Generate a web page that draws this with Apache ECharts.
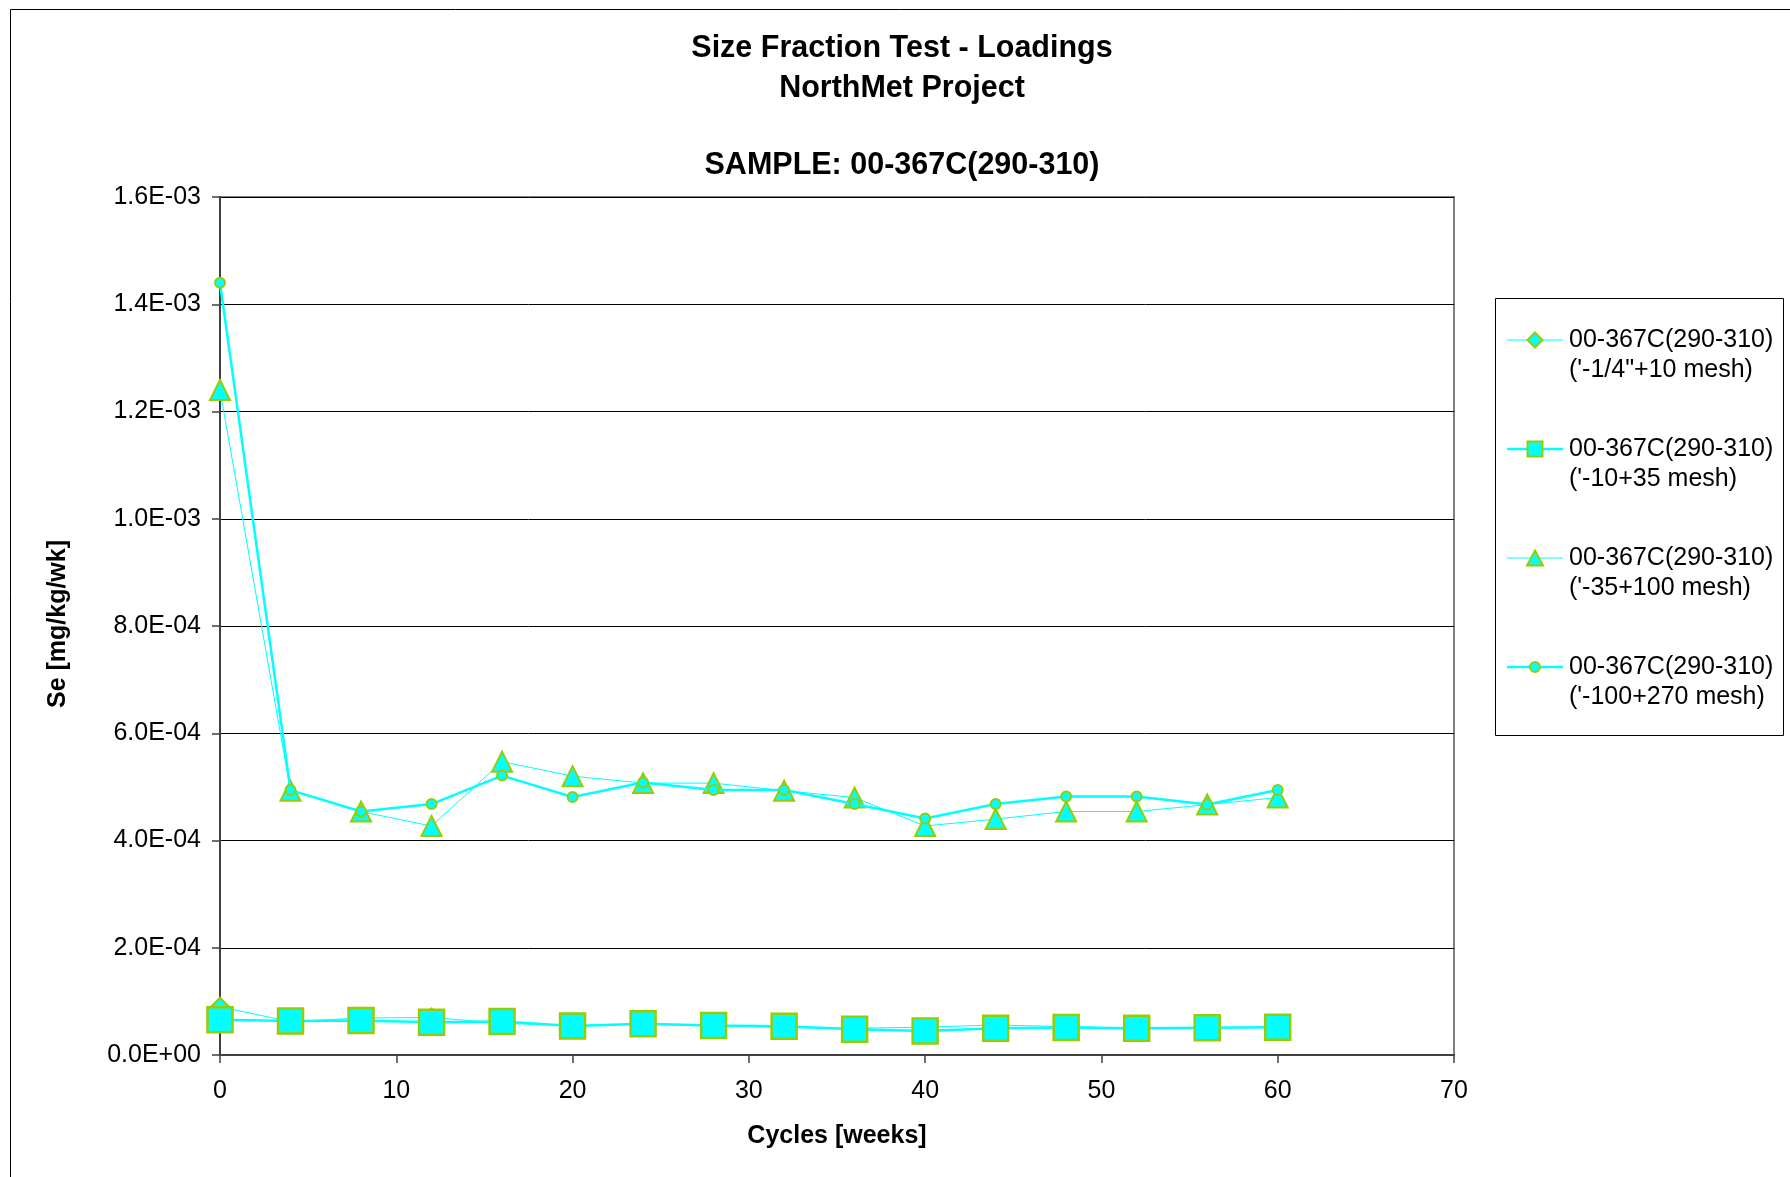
<!DOCTYPE html>
<html>
<head>
<meta charset="utf-8">
<title>Size Fraction Test - Loadings</title>
<script src="https://cdn.jsdelivr.net/npm/echarts@6/dist/echarts.min.js"></script>
<style>
  html, body { margin: 0; padding: 0; background: #ffffff; }
  #chart { width: 1790px; height: 1177px; }
</style>
</head>
<body>
<div id="chart"></div>
<script>
// Cycle numbers (weeks)
const cycles = [0, 4, 8, 12, 16, 20, 24, 28, 32, 36, 40, 44, 48, 52, 56, 60];

// Se loadings [mg/kg/wk] per size fraction
const seCoarse = [9.0e-5, 6.2e-5, 6.9e-5, 7.0e-5, 5.9e-5, 5.5e-5, 5.7e-5, 5.6e-5, 5.1e-5, 5.0e-5, 5.2e-5, 5.6e-5, 5.3e-5, 5.0e-5, 5.1e-5, 5.2e-5];
const seMesh10 = [6.58e-5, 6.34e-5, 6.43e-5, 6.12e-5, 6.25e-5, 5.41e-5, 5.82e-5, 5.50e-5, 5.37e-5, 4.80e-5, 4.48e-5, 4.97e-5, 5.13e-5, 4.97e-5, 5.09e-5, 5.19e-5];
const seMesh35 = [1.24e-3, 4.93e-4, 4.54e-4, 4.27e-4, 5.47e-4, 5.20e-4, 5.07e-4, 5.07e-4, 4.93e-4, 4.80e-4, 4.27e-4, 4.40e-4, 4.54e-4, 4.54e-4, 4.67e-4, 4.80e-4];
const seMesh100 = [1.44e-3, 4.94e-4, 4.54e-4, 4.68e-4, 5.21e-4, 4.81e-4, 5.08e-4, 4.94e-4, 4.94e-4, 4.68e-4, 4.41e-4, 4.68e-4, 4.82e-4, 4.82e-4, 4.67e-4, 4.94e-4];

// Series names (two lines each)
const seriesNames = [
  '00-367C(290-310)\n(\'-1/4"+10 mesh)',
  '00-367C(290-310)\n(\'-10+35 mesh)',
  '00-367C(290-310)\n(\'-35+100 mesh)',
  '00-367C(290-310)\n(\'-100+270 mesh)'
];

// Axis ranges
const xMin = 0, xMax = 70, xStep = 10;
const yMin = 0, yMax = 1.6e-3, yStep = 2e-4;

const titleLines = ['Size Fraction Test - Loadings', 'NorthMet Project', 'SAMPLE: 00-367C(290-310)'];
const xTitle = 'Cycles [weeks]';
const yTitle = 'Se [mg/kg/wk]';

const FONT = '"Liberation Sans", Arial, Helvetica, sans-serif';
const LINE = '#00FFFF';
const EDGE = '#99CC00';

// Excel-like scientific tick labels, e.g. 1.6E-03
function sci(v) {
  const parts = v.toExponential(1).split('e');
  const n = parseInt(parts[1], 10);
  return parts[0] + 'E' + (n < 0 ? '-' : '+') + String(Math.abs(n)).padStart(2, '0');
}

const styles = [
  { symbol: 'diamond',  size: 18, border: 2,   width: 1,   legendSize: [15, 15] },
  { symbol: 'rect',     size: 25, border: 2.5, width: 2.5, legendSize: [15, 15] },
  { symbol: 'triangle', size: 20, border: 2,   width: 1,   legendSize: [16, 15] },
  { symbol: 'circle',   size: 10, border: 2,   width: 2.5, legendSize: [10, 10] }
];
const values = [seCoarse, seMesh10, seMesh35, seMesh100];

const series = values.map((vals, i) => ({
  name: seriesNames[i],
  type: 'line',
  data: cycles.map((c, k) => [c, vals[k]]),
  symbol: styles[i].symbol,
  symbolSize: styles[i].size,
  showAllSymbol: true,
  lineStyle: { color: LINE, width: styles[i].width },
  itemStyle: { color: LINE, borderColor: EDGE, borderWidth: styles[i].border },
  z: 2 + i,
  emphasis: { disabled: true }
}));

// Legend drawn as graphic elements beside the plot
const legendBox = { x: 1495.5, y: 298.5, w: 288, h: 437 };
const legendItems = [];
seriesNames.forEach((name, i) => {
  const cy = 340 + 109 * i;
  const st = styles[i];
  legendItems.push({
    type: 'line',
    shape: { x1: 1507, y1: cy, x2: 1563, y2: cy },
    style: { stroke: LINE, lineWidth: st.width }
  });
  const cx = 1535;
  const w = st.legendSize[0], h = st.legendSize[1];
  const mstyle = { fill: LINE, stroke: EDGE, lineWidth: 2 };
  if (st.symbol === 'diamond') {
    legendItems.push({ type: 'polygon', shape: { points: [[cx, cy - h / 2], [cx + w / 2, cy], [cx, cy + h / 2], [cx - w / 2, cy]] }, style: mstyle });
  } else if (st.symbol === 'rect') {
    legendItems.push({ type: 'rect', shape: { x: cx - w / 2, y: cy - h / 2, width: w, height: h }, style: mstyle });
  } else if (st.symbol === 'triangle') {
    legendItems.push({ type: 'polygon', shape: { points: [[cx, cy - h / 2], [cx + w / 2, cy + h / 2], [cx - w / 2, cy + h / 2]] }, style: mstyle });
  } else {
    legendItems.push({ type: 'circle', shape: { cx: cx, cy: cy, r: w / 2 }, style: mstyle });
  }
  name.split('\n').forEach((ln, j) => {
    legendItems.push({
      type: 'text', x: 1569, y: cy + 30 * j,
      style: { text: ln, font: '25px ' + FONT, fill: '#000', align: 'left', verticalAlign: 'middle' }
    });
  });
});

const titleY = [49, 88.5, 165.5];

const option = {
  animation: false,
  backgroundColor: '#ffffff',
  grid: {
    left: 220, right: 336, top: 197, bottom: 122,
    show: true, borderColor: '#808080', borderWidth: 2,
    containLabel: false, outerBoundsMode: 'none'
  },
  xAxis: {
    type: 'value', min: xMin, max: xMax, interval: xStep,
    axisLine: { show: true, onZero: false, lineStyle: { color: '#404040', width: 2 } },
    axisTick: { show: true, inside: false, length: 8, lineStyle: { color: '#404040', width: 1.5 } },
    axisLabel: { margin: 24, color: '#000', fontFamily: FONT, fontSize: 25 },
    splitLine: { show: false }
  },
  yAxis: {
    type: 'value', min: yMin, max: yMax, interval: yStep,
    axisLine: { show: true, onZero: false, lineStyle: { color: '#404040', width: 2 } },
    axisTick: { show: true, inside: false, length: 8, lineStyle: { color: '#404040', width: 1.5 } },
    axisLabel: { margin: 19, color: '#000', fontFamily: FONT, fontSize: 25, formatter: sci },
    splitLine: { show: true, lineStyle: { color: '#000', width: 1 } }
  },
  series: series,
  graphic: [
    {
      type: 'rect', silent: true,
      shape: { x: 10.5, y: 9.5, width: 1800, height: 1200 },
      style: { fill: 'none', stroke: '#000', lineWidth: 1 }
    },
    ...titleLines.map((t, i) => ({
      type: 'text', x: 902, y: titleY[i],
      style: { text: t, font: 'bold 30.5px ' + FONT, fill: '#000', align: 'center', verticalAlign: 'middle' }
    })),
    {
      type: 'text', x: 837, y: 1136,
      style: { text: xTitle, font: 'bold 25px ' + FONT, fill: '#000', align: 'center', verticalAlign: 'middle' }
    },
    {
      type: 'text', x: 58, y: 624, rotation: Math.PI / 2,
      style: { text: yTitle, font: 'bold 25px ' + FONT, fill: '#000', align: 'center', verticalAlign: 'middle' }
    },
    {
      type: 'rect', silent: true,
      shape: { x: legendBox.x, y: legendBox.y, width: legendBox.w, height: legendBox.h },
      style: { fill: '#fff', stroke: '#000', lineWidth: 1 }
    },
    ...legendItems
  ]
};

const chart = echarts.init(document.getElementById('chart'), null, { renderer: 'canvas' });
chart.setOption(option);
</script>
</body>
</html>
